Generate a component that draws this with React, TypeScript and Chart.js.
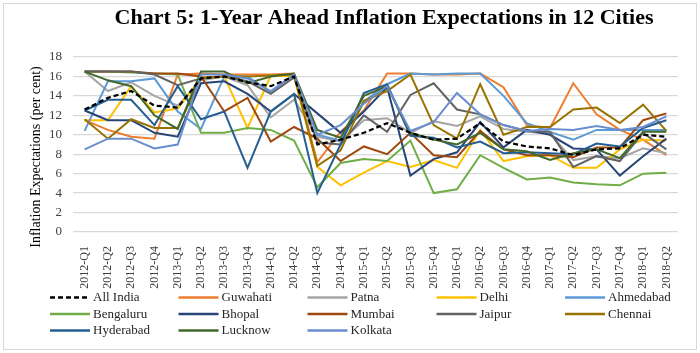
import React, { useEffect, useRef } from "react";
import { Chart, registerables } from "chart.js";
Chart.register(...registerables);

const categories = [
  "2012-Q1", "2012-Q2", "2012-Q3", "2012-Q4",
  "2013-Q1", "2013-Q2", "2013-Q3", "2013-Q4",
  "2014-Q1", "2014-Q2", "2014-Q3", "2014-Q4",
  "2015-Q1", "2015-Q2", "2015-Q3", "2015-Q4",
  "2016-Q1", "2016-Q2", "2016-Q3", "2016-Q4",
  "2017-Q1", "2017-Q2", "2017-Q3", "2017-Q4",
  "2018-Q1", "2018-Q2",
];

const allIndia = [12.6, 13.8, 14.5, 13.0, 12.8, 15.8, 16.0, 15.4, 15.0, 16.0, 9.0, 9.5, 10.2, 11.2, 10.2, 9.5, 9.6, 11.2, 9.3, 8.8, 8.6, 7.9, 8.5, 8.6, 10.0, 9.8];
const guwahati = [11.5, 10.5, 9.8, 9.6, 16.2, 16.3, 16.2, 16.2, 16.2, 16.3, 7.2, 10.3, 12.5, 16.3, 16.3, 16.2, 16.2, 16.3, 14.9, 11.0, 10.7, 15.3, 12.1, 10.5, 9.5, 7.9];
const patna = [16.5, 14.5, 15.4, 14.0, 13.0, 15.6, 16.0, 15.1, 11.8, 13.6, 9.8, 9.3, 11.5, 11.7, 10.2, 11.4, 10.9, 11.9, 10.6, 10.3, 10.1, 7.4, 7.8, 7.6, 8.6, 8.1];
const delhi = [11.5, 11.5, 15.0, 12.3, 12.7, 15.8, 16.0, 10.7, 16.1, 16.0, 6.7, 4.8, 6.1, 7.3, 6.7, 7.4, 6.6, 10.5, 7.3, 7.8, 7.9, 6.6, 6.6, 8.5, 9.5, 9.4];
const ahmedabad = [10.4, 15.5, 15.5, 15.8, 12.4, 10.6, 16.0, 16.0, 14.4, 16.2, 10.0, 9.4, 13.4, 15.2, 16.3, 16.2, 16.3, 16.3, 14.0, 11.2, 10.3, 9.5, 10.5, 10.5, 10.5, 10.5];
const bengaluru = [16.5, 16.5, 16.4, 16.3, 16.2, 10.2, 10.2, 10.7, 10.5, 9.4, 4.6, 7.1, 7.5, 7.3, 9.4, 4.0, 4.4, 7.9, 6.6, 5.4, 5.6, 5.1, 4.9, 4.8, 6.0, 6.1];
const bhopal = [12.5, 11.5, 11.5, 10.2, 9.8, 15.3, 15.5, 14.2, 12.4, 14.2, 12.2, 10.2, 12.4, 14.9, 5.8, 7.5, 8.2, 11.3, 8.7, 10.5, 10.0, 8.6, 8.5, 5.8, 7.8, 9.6];
const mumbai = [16.5, 16.5, 16.5, 16.3, 16.3, 16.0, 12.4, 13.8, 9.3, 10.8, 9.6, 7.3, 8.8, 8.0, 10.2, 7.9, 7.7, 10.4, 8.5, 7.9, 7.9, 7.7, 8.7, 8.7, 11.5, 12.2];
const jaipur = [16.5, 16.5, 16.5, 16.2, 15.1, 15.8, 16.0, 15.5, 14.2, 15.9, 9.2, 9.0, 12.0, 10.3, 14.1, 15.3, 12.6, 12.1, 11.0, 10.4, 10.3, 6.7, 7.8, 7.3, 10.2, 8.5];
const chennai = [11.6, 9.6, 11.6, 10.7, 10.7, 15.9, 16.0, 16.0, 16.1, 16.2, 6.8, 8.4, 13.5, 14.5, 16.2, 11.0, 9.6, 15.2, 10.0, 10.8, 10.8, 12.6, 12.8, 11.2, 13.1, 10.4];
const hyderabad = [12.5, 13.6, 13.6, 11.0, 15.0, 11.6, 12.4, 6.6, 12.4, 14.2, 4.0, 9.0, 14.3, 15.2, 9.9, 9.7, 8.7, 9.3, 8.1, 8.2, 8.1, 8.0, 9.1, 8.8, 10.7, 11.5];
const lucknow = [16.5, 15.6, 15.0, 12.0, 10.6, 16.5, 16.5, 15.3, 16.0, 16.3, 10.5, 9.7, 14.0, 15.0, 10.2, 9.5, 9.0, 10.2, 8.5, 8.3, 7.4, 8.1, 8.5, 7.6, 10.3, 10.3];
const kolkata = [8.5, 9.6, 9.6, 8.6, 9.0, 16.2, 16.2, 15.8, 14.5, 16.2, 10.0, 11.0, 13.2, 15.0, 10.4, 11.3, 14.3, 12.1, 11.0, 10.4, 10.6, 10.5, 10.9, 10.5, 10.8, 11.9];

const seriesNames = [
  "All India", "Guwahati", "Patna", "Delhi", "Ahmedabad",
  "Bengaluru", "Bhopal", "Mumbai", "Jaipur", "Chennai",
  "Hyderabad", "Lucknow", "Kolkata",
];
const seriesColors = [
  "#000000", "#ED7D31", "#A5A5A5", "#FFC000", "#5B9BD5",
  "#70AD47", "#264478", "#9E480E", "#636363", "#997300",
  "#255E91", "#43682B", "#698ED0",
];

const yTicks = [0, 2, 4, 6, 8, 10, 12, 14, 16, 18];

const chartTitle = "Chart 5: 1-Year Ahead Inflation Expectations in 12 Cities";
const yAxisTitle = "Inflation Expectations (per cent)";

const FONT = '"Liberation Serif", "Times New Roman", serif';

export default function App() {
  const ref = useRef<HTMLCanvasElement>(null);

  useEffect(() => {
    const canvas = ref.current;
    if (!canvas) return;
    const values = [
      allIndia, guwahati, patna, delhi, ahmedabad,
      bengaluru, bhopal, mumbai, jaipur, chennai,
      hyderabad, lucknow, kolkata,
    ];

    const decorations = {
      id: "decorations",
      afterDraw(chart: any) {
        const ctx = chart.ctx as CanvasRenderingContext2D;
        ctx.save();
        ctx.fillStyle = "#000000";
        ctx.font = `bold 22px ${FONT}`;
        ctx.textAlign = "center";
        ctx.textBaseline = "middle";
        ctx.fillText(chartTitle, 384, 18);
        ctx.save();
        ctx.translate(36, 157);
        ctx.rotate(-Math.PI / 2);
        ctx.font = `14px ${FONT}`;
        ctx.fillText(yAxisTitle, 0, 0);
        ctx.restore();
        const colX = [50, 178.5, 307.5, 436.5, 565];
        const rowY = [297.5, 314, 330.5];
        chart.data.datasets.forEach((ds: any, i: number) => {
          const x = colX[i % 5];
          const y = rowY[Math.floor(i / 5)];
          ctx.strokeStyle = ds.borderColor;
          ctx.lineWidth = 2.5;
          ctx.setLineDash(ds.borderDash || []);
          ctx.beginPath();
          ctx.moveTo(x, y);
          ctx.lineTo(x + 40, y);
          ctx.stroke();
          ctx.setLineDash([]);
          ctx.fillStyle = "#262626";
          ctx.font = `13px ${FONT}`;
          ctx.textBaseline = "middle";
          ctx.textAlign = "left";
          ctx.fillText(ds.label, x + 43, y + 0.5);
        });
        ctx.restore();
      },
    };

    const chart = new Chart(canvas, {
      type: "line",
      data: {
        labels: categories,
        datasets: values.map((v, i) => ({
          label: seriesNames[i],
          data: v,
          borderColor: seriesColors[i],
          backgroundColor: seriesColors[i],
          borderWidth: i === 0 ? 2.2 : 2,
          borderDash: i === 0 ? [5, 3] : [],
          pointRadius: 0,
          tension: 0,
          fill: false,
          order: i === 0 ? 0 : 13 - i,
        })),
      },
      plugins: [decorations],
      options: {
        responsive: false,
        animation: false,
        devicePixelRatio: 1,
        layout: { padding: { left: 20, right: 22, top: 57, bottom: 57 } },
        plugins: {
          legend: { display: false },
          tooltip: { enabled: false },
          title: { display: false },
        },
        scales: {
          x: {
            offset: true,
            grid: { display: false, drawTicks: false },
            border: { display: false },
            ticks: {
              autoSkip: false,
              maxRotation: 90,
              minRotation: 90,
              padding: 14,
              color: "#404040",
              font: { family: FONT, size: 12 },
            },
            afterFit: (s: any) => { s.height = 64; },
          },
          y: {
            min: 0,
            max: 18,
            afterBuildTicks: (s: any) => { s.ticks = yTicks.map((v) => ({ value: v })); },
            grid: { color: "#d9d9d9", lineWidth: 1.3, drawTicks: false },
            border: { display: false },
            ticks: {
              padding: 11,
              color: "#404040",
              font: { family: FONT, size: 13 },
            },
            afterFit: (s: any) => { s.width = 53; },
          },
        },
      },
    });
    return () => chart.destroy();
  }, []);

  return (
    <div style={{ position: "fixed", left: 0, top: 0, width: 700, height: 353, background: "#fff" }}>
      <canvas ref={ref} width={700} height={353} style={{ position: "absolute", left: 0, top: 0, width: 700, height: 353 }} />
      <div
        style={{
          position: "absolute", left: 3, top: 3, width: 694, height: 347,
          boxSizing: "border-box", border: "1.5px solid #d9d9d9", pointerEvents: "none",
        }}
      />
    </div>
  );
}
